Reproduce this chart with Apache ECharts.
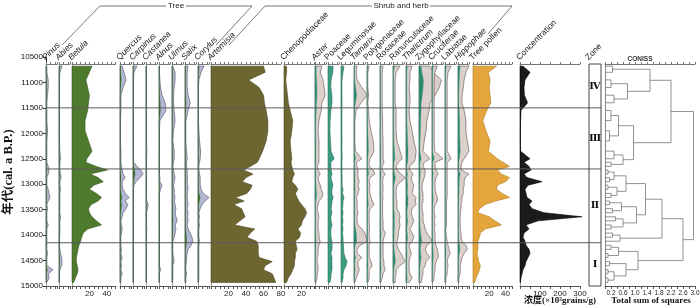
<!DOCTYPE html>
<html><head><meta charset="utf-8">
<script src="https://cdn.jsdelivr.net/npm/echarts@6/dist/echarts.min.js"></script>
<style>html,body{margin:0;padding:0;background:#fff}#c{width:700px;height:308px}</style>
</head><body><div id="c"></div>
<script>
// ---------------- DATA ----------------
const ages = [10680,10800,10950,11100,11250,11400,11550,11750,11950,12150,12350,12500,12570,12650,12720,12800,12870,12950,13020,13100,13180,13260,13330,13400,13480,13560,13640,13720,13800,13880,13960,14040,14120,14200,14280,14360,14440,14520,14600,14680,14760,14840,14930];
const ageTicks = [10500,11000,11500,12000,12500,13000,13500,14000,14500,15000];

const pinus = [0.2,0.2,0.5,0.5,0.35, 0.2,0.2,0.2,0.35,0.2, 0.2,0.2,0.2,0.5,0.7, 0.5,0.2,0.2,0.2,0.5, 0.7,0.9,0.5,0.2,0.35, 0.2,0.2,0.2,0.5,0.2, 0.2,0.2,0.2,0.2,0.2, 0.35,0.2,0.2,0.2,1.6, 0.5,0.7,0.2];
const abies = [0.7,0.2,0.1,0.1,0.1, 0.1,0.1,0.1,0.1,0.1, 0.2,0.35,0.2,0.2,0.2, 0.35,0.5,0.2,0.2,0.35, 0.2,0.2,0.2,0.2,0.2, 0.2,0.35,0.2,0.2,0.2, 0.2,0.1,0.1,0.1,0.2, 0.35,0.6,0.7,0.6,0.2, 0.1,0.1,0.1];
const betula = [23,20,16,18,20, 19,18,15,15,19, 23,17,16,28,41, 21,30,36,25,20, 28,34,30,22,19, 20,23,28,34,18, 13,11,10,8,7, 6,5,5,6,7, 6,4,2];
const quercus = [0.5,0.9,1.4,0.7,0.2, 0.2,0.2,0.1,0.1,0.1, 0.2,0.2,0.2,0.35,0.5, 0.7,1.2,0.5,0.5,0.7, 1.2,2.1,1.2,1.8,1.4, 0.7,0.5,0.2,0.35,0.5, 0.35,0.2,0.2,0.2,0.35, 0.2,0.5,0.2,0.35,0.2, 0.5,0.2,0.2];
const carpinus = [0.9,0.2,0.1,0.1,0.1, 0.1,0.1,0.1,0.1,0.1, 0.1,0.1,0.2,0.9,1.8, 2.3,1.6,0.7,0.2,0.1, 0.1,0.1,0.1,0.1,0.1, 0.1,0.1,0.1,0.1,0.1, 0.1,0.1,0.1,0.1,0.1, 0.1,0.1,0.1,0.1,0.1, 0.1,0.1,0.1];
const castanea = [0.1,0.1,0.1,0.1,0.1, 0.1,0.1,0.1,0.1,0.1, 0.2,0.1,0.1,0.1,0.1, 0.1,0.1,0.1,0.1,0.1, 0.1,0.1,0.2,0.5,0.35, 0.1,0.1,0.1,0.1,0.2, 0.1,0.1,0.1,0.1,0.1, 0.1,0.1,0.1,0.1,0.1, 0.1,0.1,0.1];
const alnus = [0.1,0.1,0.2,0.35,0.7, 1.4,1.6,0.2,0.1,0.1, 0.1,0.1,0.1,0.1,0.1, 0.1,0.2,0.2,0.7,0.35, 0.1,0.1,0.1,0.1,0.1, 0.1,0.1,0.1,0.1,0.1, 0.1,0.1,0.1,0.1,0.1, 0.1,0.1,0.1,0.1,0.35, 0.1,0.1,0.1];
const ulmus = [0.2,0.7,0.7,0.5,0.35, 0.35,0.5,0.7,0.35,0.2, 0.5,0.5,0.35,0.2,0.35, 0.5,0.7,0.5,0.35,0.5, 0.5,0.7,0.5,0.7,0.9, 0.7,0.9,1.2,0.7,0.9, 0.7,0.5,0.2,0.2,0.2, 0.2,0.35,0.5,0.2,0.2, 0.2,0.2,0.1];
const salix = [0.7,0.5,0.5,0.5,0.7, 1.2,0.7,0.2,0.2,0.2, 0.35,0.5,0.35,0.35,0.5, 0.5,0.6,0.5,0.6,0.7, 0.5,0.5,0.6,0.7,0.5, 0.7,0.6,0.7,0.5,0.7, 1.2,1.6,1.8,1.4,0.7, 0.5,0.35,0.35,0.2,0.2, 0.35,0.2,0.2];
const corylus = [1.4,0.7,0.2,0.1,0.1, 0.1,0.1,0.1,0.2,0.35, 0.6,0.5,0.35,0.2,0.2, 0.35,0.5,0.5,0.5,0.7, 1.2,2.5,1.6,0.9,0.5, 0.2,0.35,0.2,0.35,0.2, 0.2,0.2,0.35,0.2,0.2, 0.2,0.2,0.2,0.2,0.2, 0.2,0.2,0.1];
const artemisia = [60,62,43,55,60, 61,63,65,65,63, 59,55,53,45,37, 48,40,36,47,45, 41,28,38,26,35, 37,39,33,27,50, 45,41,52,54,54, 54,55,70,62,60, 70,72,74];
const chenopodiaceae = [3,3,2,3,4, 5,7,10,9,7, 8,9,8,9,10, 12,10,9,13,16, 13,15,17,20,24, 26,24,21,20,16, 19,18,13,14,15, 13,13,12,12,10, 8,5,3];
const aster = [1.6,1.2,1.8,2.1,2.3, 1.6,1.4,0.9,0.7,0.9, 0.9,0.9,0.9,0.5,0.7, 1.2,0.7,0.9,1.2,1.4, 1.8,1.6,0.9,0.7,0.5, 0.7,0.9,0.7,0.7,0.7, 0.9,0.9,1.2,0.9,0.7, 0.7,0.5,0.5,0.7,0.7, 0.5,0.5,0.2];
const poaceae = [5.8,5.5,3.5,3.2,4.4, 4.6,3.3,2.4,2.2,2.8, 3.5,7.0,3.4,3.3,3.6, 4.5,3.4,4.6,5.6,4.5, 4.4,5.8,4.6,4.3,3.5, 4.5,3.3,3.5,4.6,3.4, 3.2,3.5,4.4,4.7,4.5, 3.3,4.6,4.4,4.5,4.6, 3.5,3.3,2.2];
const leguminosae = [3.4,2.3,1.1,1.1,1.1, 1.2,1.1,1.0,1.1,1.2, 1.1,1.3,1.1,1.0,1.2, 1.1,1.3,1.2,1.1,2.3, 1.7,3.4,2.3,2.2,1.7, 2.3,1.7,2.3,1.7,2.3, 1.7,2.3,2.3,2.9,2.9, 3.4,4.6,6.9,5.7,3.4, 2.3,2.3,1.1];
const tamarix = [0.7,0.5,0.7,1.8,3.0, 1.6,0.5,0.2,0.2,0.2, 0.35,1.8,0.5,0.7,0.9, 0.9,0.9,1.2,0.9,1.2, 0.9,0.5,0.7,0.7,0.7, 0.9,0.7,0.7,0.9,1.8, 2.5,2.8,3.0,1.4,0.7, 0.7,1.8,0.9,0.9,1.2, 0.9,0.5,0.2];
const polygonaceae = [0.5,0.2,0.2,0.2,0.35, 0.2,0.35,0.5,0.9,1.4, 1.6,0.7,0.5,0.5,1.4, 1.8,0.7,0.5,0.7,0.5, 0.7,0.9,1.2,1.6,0.7, 0.5,0.5,0.5,0.5,0.6, 0.5,0.5,0.7,0.5,0.5, 0.5,0.5,0.9,1.2,0.5, 0.5,0.5,0.2];
const rosaceae = [0.7,0.5,0.5,0.5,0.5, 0.5,0.5,0.6,0.6,0.7, 0.7,0.7,0.9,0.5,0.5, 1.2,0.7,0.6,0.7,0.7, 0.6,0.7,0.6,0.6,0.6, 0.6,0.6,0.7,0.7,0.7, 1.2,0.9,0.7,0.7,0.7, 0.7,0.7,0.9,0.9,1.2, 0.7,0.5,0.2];
const ranunculaceae = [1.6,0.7,0.5,0.5,0.5, 0.5,0.7,0.7,0.7,0.9, 1.6,2.1,1.2,0.7,0.9, 1.8,2.8,1.8,0.9,0.7, 0.7,0.7,0.9,0.9,0.9, 1.4,1.6,1.4,1.6,1.4, 1.2,1.2,0.9,0.9,1.2, 1.8,2.3,2.8,1.6,0.7, 0.7,0.5,0.5];
const thalictrum = [1.4,0.9,0.9,0.7,0.9, 0.9,0.7,0.9,1.4,1.8, 2.3,2.1,1.8,0.7,0.9, 1.6,1.2,1.4,1.8,1.6, 1.4,2.3,2.1,2.3,1.4, 1.2,1.4,1.8,1.4,0.9, 1.4,1.8,1.4,0.7,0.9, 1.2,0.9,0.7,0.7,0.7, 0.9,1.4,0.7];
const zygophyllaceae = [2.5,3.2,5.1,4.6,3.7, 2.5,2.3,1.8,1.6,1.2, 0.9,2.5,1.2,0.9,1.4, 1.4,1.2,0.9,0.7,0.7, 0.9,0.9,0.9,0.7,0.7, 0.9,0.9,0.9,1.2,1.4, 1.8,2.5,3.0,1.8,1.4, 1.8,2.5,1.6,1.4,0.9, 0.9,0.7,0.5];
const cruciferae = [1.2,0.7,0.5,0.5,0.5, 0.5,0.5,0.5,0.5,0.5, 0.6,2.5,0.7,0.7,0.9, 1.4,0.9,0.7,0.7,0.7, 0.9,1.2,1.2,0.7,0.5, 0.5,0.7,0.5,0.7,0.5, 0.7,0.7,0.7,0.9,1.2, 1.4,1.4,0.9,0.7,0.7, 0.5,0.5,0.2];
const labiatae = [1.4,0.7,0.5,0.5,0.5, 0.5,0.5,0.5,0.5,0.5, 0.5,1.4,0.5,0.5,0.5, 0.5,0.5,0.5,0.5,0.5, 0.5,0.5,0.35,0.35,0.35, 0.35,0.35,0.35,0.35,0.2, 0.2,0.35,0.5,0.7,0.9, 1.2,0.7,0.5,0.7,0.5, 0.5,0.2,0.2];
const hippophae = [2.5,1.8,1.4,1.2,0.9, 0.9,1.4,1.8,1.8,2.1, 2.5,1.4,0.9,0.7,0.7, 2.5,1.6,1.4,1.4,1.2, 1.2,0.9,0.9,0.7,0.7, 0.5,0.5,0.5,0.5,0.5, 0.7,0.7,0.9,1.8,2.1, 1.4,0.9,0.7,0.5,0.5, 0.5,0.2,0.2];
const treePollen = [29,19,21,20,21, 22,17,12,16,21, 19,30,37,45,30, 35,45,40,30,29, 36,45,28,15,8, 6,20,27,35,15, 9,8,6,6,6, 5,6,7,9,8, 6,4,2];
const concentration = [15,50,25,20,22, 38,5,3,2,2, 3,50,20,45,55, 20,35,110,40,25, 30,35,60,45,60, 120,310,90,30,45, 20,15,25,30,45, 50,40,30,25,15, 10,5,2];

const zoneBounds = [11500, 12700, 14150];
const zoneNames = ['Ⅳ','Ⅲ','Ⅱ','Ⅰ'];
// CONISS merges: [nodeA, nodeB, height]; leaves 0..42, new clusters numbered from 43
const conissMerges = [
 [0,1,0.25],[2,3,0.2],[4,5,0.3],[44,45,0.75],[43,46,1.5],
 [6,7,0.2],[8,9,0.15],[48,49,0.45],[10,11,0.3],[12,13,0.2],[51,52,0.6],[50,53,0.95],
 [14,15,0.1],[16,17,0.15],[55,56,0.3],[18,19,0.1],[20,21,0.2],[58,59,0.4],[57,60,0.7],
 [22,23,0.15],[24,25,0.25],[62,63,0.55],[26,27,0.35],[28,29,0.2],[65,66,0.6],[64,67,1.05],
 [61,68,1.35],[30,31,0.25],[70,32,0.5],[69,71,1.9],
 [33,34,0.2],[35,36,0.1],[73,74,0.45],[37,38,0.15],[39,40,0.1],[41,42,0.1],[77,78,0.3],[76,79,0.7],[75,80,1.1],
 [47,54,2.2],[72,81,2.6],[82,83,2.95]
];
const EXAG = 5;

// taxa: name, values, style, italic
const taxa = [
 ['Pinus',pinus,'tx',1],['Abies',abies,'tx',1],['Betula',betula,'betula',1],
 ['Quercus',quercus,'tx',1],['Carpinus',carpinus,'tx',1],['Castanea',castanea,'tx',1],
 ['Alnus',alnus,'tx',1],['Ulmus',ulmus,'tx',1],['Salix',salix,'tx',1],['Corylus',corylus,'tx',1],
 ['Artemisia',artemisia,'olive',1],['Chenopodiaceae',chenopodiaceae,'olive',0],
 ['Aster',aster,'hx',1],['Poaceae',poaceae,'teal',0],['Leguminosae',leguminosae,'teal',0],
 ['Tamarix',tamarix,'hx',1],['Polygonaceae',polygonaceae,'hx',0],['Rosaceae',rosaceae,'hx',0],
 ['Ranunculaceae',ranunculaceae,'hx',0],['Thalictrum',thalictrum,'hx',1],['Zygophyllaceae',zygophyllaceae,'hx',0],
 ['Cruciferae',cruciferae,'hx',0],['Labiatae',labiatae,'hx',0],['Hippophae',hippophae,'hx',1],
 ['Tree pollen',treePollen,'orange',0],['Concentration',concentration,'black',0]
];

// ---------------- LAYOUT ----------------
// [left, width, axisMax, tickInterval, labelEvery]
const layout = [
 [46,11],[59,11],[72,43.5,50,5,20],[120,11],[133,11],[146,11],[159,11],[172,11],[185,11],[198,11],
 [211,70,80,5,20],[284,30.5,35,5,20],
 [315,11],[328,11],[341,11],[354,11],[367,11],[380,11],[393,11],[406,11],[419,11],[432,11],[445,11],[458,11],
 [473,39,48,5,20],[520,60,300,50,100]
];
const STY = {
 tx:{exag:true, main:'#3b6a29', ex:'#b3b8d6', exStroke:'#4c4d60'},
 hx:{exag:true, main:'#2d8a70', ex:'#dbd0cb', exStroke:'#5e5350'},
 betula:{fill:'#4d7a2c', stroke:'#36571f'},
 olive:{fill:'#6e6631', stroke:'#4c4621'},
 teal:{fill:'#3d9d83', stroke:'#2a6f5c'},
 orange:{fill:'#e3a53c', stroke:'#b27c22'},
 black:{fill:'#1b1b1b', stroke:'#000'}
};
const MT = 57, PT = 64, PB = 286, PH = PB - PT;
const AGE0 = ageTicks[0], AGE1 = ageTicks[ageTicks.length-1];
const pxPerYear = (PB - MT) / (AGE1 - AGE0);
const PMIN = AGE1 - PH / pxPerYear;
const SANS = "'Liberation Sans', Arial, sans-serif";
const SERIF = "'Liberation Serif','Noto Sans CJK SC', serif";

const grids = [], xAxes = [], yAxes = [], series = [], graphics = [];

function addGrid(left, width, top, height) {
  grids.push({left, top, width, height, containLabel:false, outerBoundsMode:'none'});
  return grids.length - 1;
}
function addPanel(left, width, xmax, interval, labelEvery, lineColor) {
  const gi = addGrid(left, width, PT, PH);
  const xb = xAxes.length;
  xAxes.push({gridIndex:gi, type:'value', position:'bottom', min:0, max:xmax, interval,
    axisLine:{show:true, onZero:false, lineStyle:{color:'#555', width:1}},
    axisTick:{show:true, length:3, lineStyle:{color:'#555', width:1}},
    axisLabel:{show:!!labelEvery, fontSize:8, color:'#222', margin:4, fontFamily:SANS,
      formatter: v => (labelEvery && v > 0 && Math.abs(v % labelEvery) < 1e-6) ? String(v) : ''},
    splitLine:{show:false}});
  xAxes.push({gridIndex:gi, type:'value', position:'top', min:0, max:xmax, interval,
    axisLine:{show:true, onZero:false, lineStyle:{color:'#777', width:1}},
    axisTick:{show:true, length:2, lineStyle:{color:'#777', width:1}},
    axisLabel:{show:false}, splitLine:{show:false}});
  const yi = yAxes.length;
  yAxes.push({gridIndex:gi, type:'value', inverse:true, min:PMIN, max:AGE1,
    axisLine:{show:true, onZero:false, lineStyle:{color:lineColor || '#98a68f', width:1}},
    axisTick:{show:false}, axisLabel:{show:false}, splitLine:{show:false}});
  return {gi, xb, yi};
}
function areaSeries(p, vals, factor, fill, stroke, z, lw) {
  return {type:'custom', xAxisIndex:p.xb, yAxisIndex:p.yi, clip:false, silent:true, z,
    data: ages.map((a, i) => [vals[i] * factor, a]), encode:{x:0, y:1},
    renderItem: (params, api) => {
      if (params.dataIndex !== 0) return null;
      const pts = [api.coord([0, ages[0]])];
      for (let i = 0; i < ages.length; i++) pts.push(api.coord([vals[i] * factor, ages[i]]));
      pts.push(api.coord([0, ages[ages.length - 1]]));
      return {type:'polygon', shape:{points:pts}, style:{fill, stroke, lineWidth: lw == null ? 0.6 : lw}};
    }};
}

// main age axis
{
  const gi = addGrid(46, 1, MT, PB - MT);
  xAxes.push({gridIndex:gi, type:'value', show:false, min:0, max:1});
  yAxes.push({gridIndex:gi, type:'value', inverse:true, min:AGE0, max:AGE1, interval:ageTicks[1]-ageTicks[0],
    axisLine:{show:true, onZero:false, lineStyle:{color:'#333', width:1}},
    axisTick:{show:true, length:3, lineStyle:{color:'#333'}},
    axisLabel:{fontSize:8, color:'#111', margin:3, fontFamily:SANS, formatter: v => String(v)}, splitLine:{show:false}});
}

// pollen panels
taxa.forEach((t, i) => {
  const [name, vals, sk, it] = t;
  const L = layout[i];
  const width = L[1], xmax = L[2] || 12.5, interval = L[3] || 5, labelEvery = L[4] || 0;
  const p = addPanel(L[0], width, xmax, interval, labelEvery);
  const s = STY[sk];
  if (s.exag) {
    series.push(areaSeries(p, vals, EXAG, s.ex, s.exStroke, 2, 0.6));
    series.push(areaSeries(p, vals, 1, s.main, s.main, 3, 0.3));
  } else {
    series.push(areaSeries(p, vals, 1, s.fill, s.stroke, 3, 0.6));
  }
  graphics.push({type:'text', x:L[0] + 1, y:PT - 2, rotation:Math.PI/4, silent:true,
    style:{text:name, fontSize:8.5, fontStyle: it ? 'italic' : 'normal', fontFamily:SANS, fill:'#222',
      align:'left', verticalAlign:'bottom'}});
});

// zone lines across the diagram
{
  const gi = addGrid(46, 555, PT, PH);
  const xi = xAxes.length;
  xAxes.push({gridIndex:gi, type:'value', show:false, min:0, max:1});
  const yi = yAxes.length;
  yAxes.push({gridIndex:gi, type:'value', show:false, inverse:true, min:PMIN, max:AGE1});
  series.push({type:'custom', xAxisIndex:xi, yAxisIndex:yi, silent:true, z:10, clip:false,
    data: zoneBounds.map(b => [0, b]), encode:{x:0, y:1},
    renderItem: (params, api) => {
      const b = zoneBounds[params.dataIndex];
      const p1 = api.coord([0, b]), p2 = api.coord([1, b]);
      return {type:'line', shape:{x1:p1[0], y1:p1[1], x2:p2[0], y2:p2[1]}, style:{stroke:'#5a5a5a', lineWidth:1}};
    }});
}
// zone column
{
  const gi = addGrid(589, 12, PT, PH);
  const xi = xAxes.length;
  xAxes.push({gridIndex:gi, type:'value', show:false, min:0, max:1});
  const yi = yAxes.length;
  yAxes.push({gridIndex:gi, type:'value', show:false, inverse:true, min:PMIN, max:AGE1});
  const edges = [PMIN].concat(zoneBounds, [AGE1]);
  const mids = zoneNames.map((n, i) => (edges[i] + edges[i+1]) / 2);
  series.push({type:'custom', xAxisIndex:xi, yAxisIndex:yi, silent:true, z:11, clip:false,
    data: mids.map(m => [0.5, m]), encode:{x:0, y:1},
    renderItem: (params, api) => {
      const c = api.coord([0.5, mids[params.dataIndex]]);
      const kids = [{type:'text', x:c[0], y:c[1], style:{text:zoneNames[params.dataIndex], fontSize:10, fontWeight:'bold',
        fontFamily:"'DejaVu Serif','Liberation Serif',serif", fill:'#111', align:'center', verticalAlign:'middle'}}];
      if (params.dataIndex === 0) {
        const a = api.coord([0, PMIN]), b = api.coord([1, AGE1]);
        kids.push({type:'rect', shape:{x:a[0], y:a[1], width:b[0]-a[0], height:b[1]-a[1]}, style:{fill:null, stroke:'#444', lineWidth:1}});
      }
      return {type:'group', children:kids};
    }});
  graphics.push({type:'text', x:590, y:PT - 2, rotation:Math.PI/4, silent:true,
    style:{text:'Zone', fontSize:8.5, fontFamily:SANS, fill:'#222', align:'left', verticalAlign:'bottom'}});
}
// CONISS dendrogram
{
  const gi = addGrid(605, 90, PT, PH);
  const xb = xAxes.length;
  xAxes.push({gridIndex:gi, type:'value', position:'bottom', min:0, max:3, interval:0.2,
    axisLine:{show:true, onZero:false, lineStyle:{color:'#555'}},
    axisTick:{show:true, length:3, lineStyle:{color:'#555'}},
    axisLabel:{fontSize:6.5, color:'#222', margin:4, fontFamily:SANS,
      formatter: v => (Math.round(v * 10) % 4 === 2) ? v.toFixed(1) : ''},
    splitLine:{show:false}});
  xAxes.push({gridIndex:gi, type:'value', position:'top', min:0, max:3, interval:0.2,
    axisLine:{show:true, onZero:false, lineStyle:{color:'#777'}},
    axisTick:{show:true, length:2, lineStyle:{color:'#777'}}, axisLabel:{show:false}, splitLine:{show:false}});
  const yi = yAxes.length;
  yAxes.push({gridIndex:gi, type:'value', inverse:true, min:PMIN, max:AGE1,
    axisLine:{show:true, onZero:false, lineStyle:{color:'#888'}}, axisTick:{show:false}, axisLabel:{show:false}, splitLine:{show:false}});
  const nodeY = ages.slice(), nodeH = ages.map(() => 0), segs = [];
  conissMerges.forEach(([a, b, h]) => {
    segs.push([[nodeH[a], nodeY[a]], [h, nodeY[a]]]);
    segs.push([[nodeH[b], nodeY[b]], [h, nodeY[b]]]);
    segs.push([[h, nodeY[a]], [h, nodeY[b]]]);
    nodeY.push((nodeY[a] + nodeY[b]) / 2); nodeH.push(h);
  });
  series.push({type:'custom', xAxisIndex:xb, yAxisIndex:yi, silent:true, z:5, clip:false,
    data: [[0, ages[0]]], encode:{x:0, y:1},
    renderItem: (params, api) => ({type:'group', children: segs.map(s => {
      const p1 = api.coord(s[0]), p2 = api.coord(s[1]);
      return {type:'line', shape:{x1:p1[0], y1:p1[1], x2:p2[0], y2:p2[1]}, style:{stroke:'#777', lineWidth:0.8}};
    })})});
  graphics.push({type:'text', x:640, y:59, silent:true,
    style:{text:'CONISS', fontSize:6.5, fontWeight:'bold', fontFamily:SANS, fill:'#333', align:'center', verticalAlign:'middle'}});
}

// group brackets and titles
const LN = {stroke:'#555', lineWidth:0.8, fill:null};
graphics.push(
 {type:'polyline', silent:true, shape:{points:[[62,45],[100,6],[166,6]]}, style:LN},
 {type:'polyline', silent:true, shape:{points:[[186,6],[252,6],[216,45]]}, style:LN},
 {type:'text', silent:true, x:176, y:6, style:{text:'Tree', fontSize:8, fontFamily:SANS, fill:'#222', align:'center', verticalAlign:'middle'}},
 {type:'polyline', silent:true, shape:{points:[[229,45],[265,6],[372,6]]}, style:LN},
 {type:'polyline', silent:true, shape:{points:[[430,6],[512,6],[488,34]]}, style:LN},
 {type:'text', silent:true, x:401, y:6, style:{text:'Shrub and herb', fontSize:8, fontFamily:SANS, fill:'#222', align:'center', verticalAlign:'middle'}},
 {type:'text', silent:true, x:9, y:172, rotation:Math.PI/2, style:{text:'年代(cal. a B.P.)', fontSize:12.5, fontWeight:'bold', fontFamily:SERIF, fill:'#111', align:'center', verticalAlign:'middle'}},
 {type:'text', silent:true, x:560, y:301, style:{text:'浓度(×10³grains/g)', fontSize:9, fontWeight:'bold', fontFamily:SERIF, fill:'#111', align:'center', verticalAlign:'middle'}},
 {type:'text', silent:true, x:651, y:301, style:{text:'Total sum of squares', fontSize:9, fontWeight:'bold', fontFamily:SERIF, fill:'#111', align:'center', verticalAlign:'middle'}}
);

const chart = echarts.init(document.getElementById('c'), null, {renderer:'canvas'});
chart.setOption({animation:false, backgroundColor:'#fff', grid:grids, xAxis:xAxes, yAxis:yAxes, series, graphic:{elements:graphics}});
</script></body></html>
